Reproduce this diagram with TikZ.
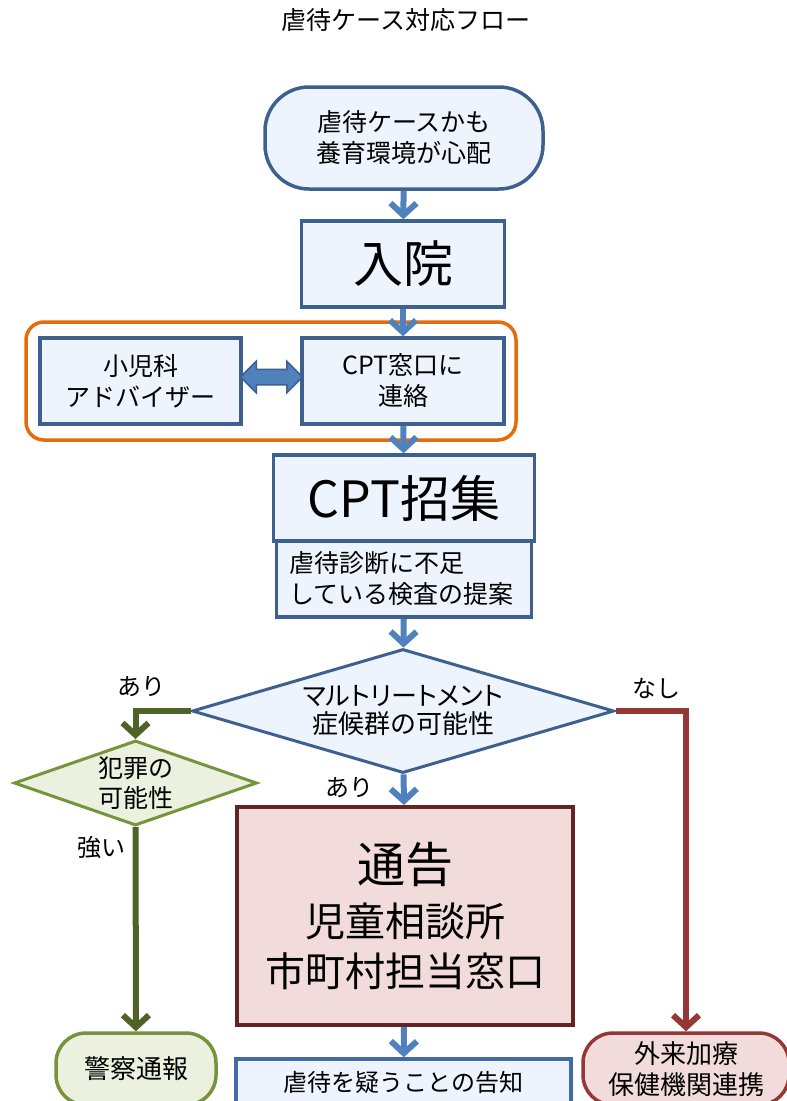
\documentclass[tikz,border=0pt]{standalone}
\usepackage{fontspec}
\setmainfont{Noto Sans CJK JP}
\newfontfamily\jpp[RawFeature=+palt]{Noto Sans CJK JP}
\usetikzlibrary{arrows.meta,shapes.geometric,shapes.arrows}
\definecolor{bfill}{RGB}{238,244,253}
\definecolor{bdr}{RGB}{62,96,142}
\definecolor{ablue}{RGB}{79,129,189}
\definecolor{orng}{RGB}{228,108,10}
\definecolor{gfill}{RGB}{235,241,222}
\definecolor{gbdr}{RGB}{119,147,60}
\definecolor{garr}{RGB}{79,98,40}
\definecolor{rarr}{RGB}{149,55,53}
\definecolor{pfill}{RGB}{242,220,219}
\definecolor{pbdr}{RGB}{99,37,35}
\definecolor{kbdr}{RGB}{65,107,165}
\begin{document}
\begin{tikzpicture}[x=1pt,y=-1pt,
  box/.style={draw=bdr, fill=bfill, line width=3.5pt, inner sep=0pt, align=center,
    font=\fontsize{25}{31}\selectfont},
  bigbox/.style={box, font=\fontsize{50}{56}\selectfont},
  diam/.style={diamond, draw=bdr, fill=bfill, line width=3pt, inner sep=0pt, align=center,
    font=\fontsize{26}{28}\selectfont},
  gdiam/.style={diamond, draw=gbdr, fill=gfill, line width=3pt, inner sep=0pt, align=center,
    font=\fontsize{25}{30}\selectfont},
  lbl/.style={inner sep=0pt, font=\fontsize{24}{28}\selectfont},
  barrow/.style={draw=ablue, line width=6pt, -{Straight Barb[length=12pt,width=26pt]}},
  garrow/.style={draw=garr, line width=6pt, -{Straight Barb[length=12pt,width=26pt]}},
  rarrow/.style={draw=rarr, line width=6pt, -{Straight Barb[length=12pt,width=26pt]}},
]
\useasboundingbox (0,0) rectangle (787,1101);
\fill[white] (0,0) rectangle (787,1101);

\node[lbl, font=\fontsize{25}{30}\selectfont] (title) at (406,20) {虐待ケース対応フロー};

\node[draw=orng, line width=3.5pt, rounded corners=18pt, minimum width=490pt,
  minimum height=118pt, inner sep=0pt] (grp) at (271,381) {};

\node[box, rounded corners=44pt, minimum width=278pt, minimum height=102pt] (start)
  at (404,138) {虐待ケースかも\\養育環境が心配};
\node[bigbox, minimum width=203pt, minimum height=86pt] (nyuin) at (403,264) {入院};
\node[box, minimum width=201pt, minimum height=86pt] (shoni) at (140.5,381)
  {小児科\\アドバイザー};
\node[box, minimum width=202pt, minimum height=86pt] (mado) at (403,381)
  {CPT窓口に\\連絡};
\node[box, text width=229pt, inner xsep=13pt, align=left, minimum height=76pt] (sub)
  at (404,579) {虐待診断に不足\\している検査の提案};
\node[bigbox, minimum width=261pt, minimum height=86pt] (cpt) at (404,498) {CPT招集};

\node[diam, aspect=3.4, minimum width=422pt, minimum height=124pt] (dia) at (403,711)
  {{\jpp マルトリートメント}\\症候群の可能性};
\node[gdiam, aspect=2.86, minimum width=243pt, minimum height=85pt] (crime)
  at (135.5,783) {犯罪の\\可能性};

\node[box, draw=pbdr, fill=pfill, line width=4pt, minimum width=336pt,
  minimum height=218pt, font=\fontsize{40}{50}\selectfont] (tsu) at (405,916)
  {{\fontsize{48}{50}\selectfont 通告}\\[4pt]児童相談所\\市町村担当窓口};

\node[box, draw=kbdr, minimum width=335pt, minimum height=46pt,
  font=\fontsize{24}{30}\selectfont] (koku) at (403.5,1082) {虐待を疑うことの告知};
\node[box, draw=gbdr, fill=gfill, rounded corners=30pt, minimum width=160pt,
  minimum height=72pt, font=\fontsize{26}{31}\selectfont] (kei) at (136,1069) {警察通報};
\node[box, draw=rarr, fill=pfill, rounded corners=30pt, minimum width=206pt,
  minimum height=72pt, font=\fontsize{26}{31}\selectfont] (gai) at (686,1069)
  {外来加療\\保健機関連携};

\node[double arrow, fill=ablue, draw=bdr, line width=1.5pt, minimum height=62pt,
  inner xsep=0pt, inner ysep=7pt, double arrow head extend=8pt,
  double arrow head indent=0pt] (dbl) at (271.5,377) {};

\node[lbl] (l1) at (141,687) {あり};
\node[lbl] (l2) at (656,688) {なし};
\node[lbl] (l3) at (349,788) {あり};
\node[lbl] (l4) at (101,847) {強い};

\draw[barrow] (start) -- (nyuin);
\draw[barrow] (nyuin) -- (mado);
\draw[barrow] (mado) -- (cpt);
\draw[barrow] (sub) -- (dia);
\draw[barrow] (dia) -- (tsu);
\draw[barrow] (tsu) -- (koku);
\draw[garrow] (dia.west) -| (crime.north);
\draw[garrow] (crime) -- (kei);
\draw[rarrow] (dia.east) -| (gai.north);
\end{tikzpicture}
\end{document}
